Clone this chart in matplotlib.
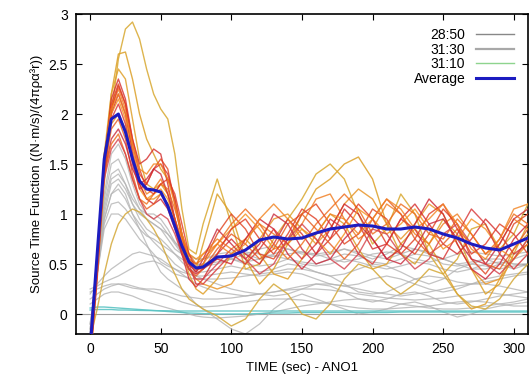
import matplotlib
matplotlib.use("Agg")
import matplotlib.pyplot as plt
from matplotlib.lines import Line2D

plt.rcParams["font.family"] = ["Liberation Sans", "DejaVu Sans"]

# common time grid (sec)
T = [0, 5, 10, 15, 20, 25, 30, 35, 40, 45, 50, 55, 60, 65, 70, 75, 80,
     90, 100, 110, 120, 130, 140, 150, 160, 170, 180, 190, 200, 210, 220,
     230, 240, 250, 260, 270, 280, 290, 300, 310]

AVERAGE = [-0.35, 0.6, 1.55, 1.95, 2.0, 1.82, 1.55, 1.33, 1.25, 1.24, 1.22, 1.08, 0.88, 0.68, 0.52, 0.46, 0.47,
           0.57, 0.58, 0.64, 0.74, 0.77, 0.75, 0.76, 0.81, 0.85, 0.87, 0.89, 0.88, 0.85, 0.85, 0.87, 0.85,
           0.8, 0.76, 0.7, 0.66, 0.64, 0.7, 0.76]

RED_CURVES = [
    [-0.45, 0.45, 1.5, 2.15, 2.35, 2.15, 1.75, 1.5, 1.55, 1.65, 1.6, 1.3, 0.95, 0.6, 0.35, 0.27, 0.35,
     0.6, 0.75, 0.6, 0.5, 0.7, 0.95, 0.8, 0.6, 0.75, 1.05, 0.9, 0.65, 0.7, 0.95, 1.1, 0.9, 0.7, 0.6, 0.75, 0.95, 0.8, 0.6, 0.7],
    [-0.4, 0.5, 1.55, 2.1, 2.3, 2.1, 1.7, 1.4, 1.3, 1.45, 1.55, 1.45, 1.1, 0.75, 0.5, 0.42, 0.5,
     0.8, 1.0, 0.85, 0.6, 0.55, 0.75, 1.0, 1.1, 0.9, 0.7, 0.8, 1.05, 0.95, 0.7, 0.6, 0.8, 1.05, 0.9, 0.55, 0.4, 0.6, 0.9, 1.0],
    [-0.35, 0.55, 1.55, 2.05, 2.25, 2.05, 1.65, 1.35, 1.2, 1.25, 1.35, 1.2, 0.95, 0.7, 0.55, 0.5, 0.6,
     0.75, 0.65, 0.75, 0.9, 0.8, 0.7, 0.9, 1.15, 1.2, 0.95, 0.75, 0.85, 1.1, 1.0, 0.8, 0.7, 0.9, 1.0, 0.8, 0.6, 0.7, 0.95, 0.85],
    [-0.4, 0.5, 1.5, 2.0, 2.2, 2.0, 1.6, 1.3, 1.15, 1.1, 1.15, 1.05, 0.85, 0.6, 0.45, 0.4, 0.45,
     0.55, 0.5, 0.75, 0.95, 0.85, 0.6, 0.45, 0.6, 0.85, 1.1, 1.0, 0.75, 0.55, 0.65, 0.9, 1.15, 1.0, 0.7, 0.45, 0.35, 0.5, 0.75, 0.9],
    [-0.3, 0.6, 1.6, 2.0, 2.15, 1.95, 1.55, 1.25, 1.15, 1.2, 1.25, 1.15, 0.95, 0.75, 0.6, 0.55, 0.6,
     0.7, 0.85, 1.0, 0.85, 0.65, 0.7, 0.85, 0.75, 0.6, 0.8, 1.05, 0.95, 0.8, 0.9, 1.05, 0.85, 0.65, 0.75, 0.95, 0.85, 0.65, 0.55, 0.7],
    [-0.45, 0.4, 1.45, 1.95, 2.1, 1.9, 1.5, 1.25, 1.3, 1.45, 1.5, 1.4, 1.15, 0.8, 0.5, 0.3, 0.3,
     0.45, 0.6, 0.5, 0.65, 0.85, 0.7, 0.55, 0.7, 0.95, 0.85, 0.6, 0.5, 0.7, 0.95, 0.85, 0.6, 0.55, 0.8, 1.05, 0.9, 0.6, 0.45, 0.6],
    [-0.35, 0.55, 1.45, 1.85, 1.95, 1.75, 1.4, 1.15, 1.05, 1.1, 1.2, 1.1, 0.9, 0.65, 0.45, 0.38, 0.45,
     0.65, 0.8, 0.7, 0.55, 0.65, 0.9, 1.0, 0.85, 0.7, 0.55, 0.7, 0.95, 1.15, 1.0, 0.75, 0.6, 0.7, 0.85, 0.7, 0.5, 0.45, 0.65, 0.85],
    [-0.3, 0.55, 1.4, 1.75, 1.85, 1.7, 1.45, 1.3, 1.35, 1.45, 1.4, 1.2, 0.95, 0.7, 0.5, 0.42, 0.55,
     0.85, 0.7, 0.55, 0.7, 1.0, 0.9, 0.65, 0.5, 0.55, 0.75, 0.9, 0.75, 0.55, 0.5, 0.65, 0.9, 0.95, 0.75, 0.55, 0.5, 0.7, 0.95, 1.05],
    [-0.3, 0.6, 1.4, 1.7, 1.8, 1.6, 1.35, 1.15, 1.1, 1.2, 1.3, 1.25, 1.05, 0.8, 0.6, 0.5, 0.55,
     0.7, 0.9, 1.05, 0.9, 0.7, 0.55, 0.7, 0.9, 1.05, 1.2, 1.05, 0.8, 0.9, 1.1, 1.0, 0.8, 0.75, 0.95, 0.8, 0.6, 0.75, 1.0, 0.9],
    [-0.5, 0.35, 1.4, 2.05, 2.28, 2.1, 1.75, 1.45, 1.25, 1.2, 1.3, 1.35, 1.2, 0.9, 0.6, 0.45, 0.45,
     0.6, 0.85, 0.95, 0.75, 0.6, 0.8, 1.05, 0.95, 0.75, 0.9, 1.1, 0.95, 0.7, 0.6, 0.75, 1.0, 1.1, 0.85, 0.6, 0.7, 0.9, 0.8, 0.6],
    [-0.25, 0.6, 1.35, 1.65, 1.75, 1.6, 1.35, 1.15, 1.0, 0.95, 1.0, 0.95, 0.8, 0.6, 0.45, 0.35, 0.35,
     0.5, 0.65, 0.55, 0.4, 0.5, 0.75, 0.9, 0.75, 0.55, 0.45, 0.6, 0.85, 0.8, 0.6, 0.45, 0.55, 0.8, 0.9, 0.7, 0.5, 0.4, 0.55, 0.75],
    [-0.4, 0.5, 1.55, 2.05, 2.2, 2.0, 1.7, 1.45, 1.4, 1.5, 1.5, 1.35, 1.1, 0.8, 0.55, 0.45, 0.5,
     0.7, 0.6, 0.7, 0.95, 1.1, 0.95, 0.75, 0.8, 1.0, 0.95, 0.8, 0.95, 1.15, 1.05, 0.85, 0.95, 1.1, 0.9, 0.65, 0.55, 0.75, 1.05, 1.1],
]
RED_COLORS = ["#d42a2a", "#e0401c", "#f07a1a", "#cc2030", "#f5901c", "#d83232",
              "#e65a1e", "#c8283a", "#ee6a18", "#e03a20", "#d4404a", "#f2821e"]

GOLD_CURVES = [
    [-0.5, 0.4, 1.3, 2.0, 2.55, 2.85, 2.92, 2.75, 2.45, 2.2, 2.05, 1.95, 1.6, 1.05, 0.65, 0.6, 0.9,
     1.35, 0.9, 0.45, 0.5, 0.75, 0.95, 1.15, 1.4, 1.5, 1.35, 1.0, 0.7, 0.85, 1.2, 1.0, 0.6, 0.4, 0.55, 0.85, 0.9, 0.65, 0.8, 1.1],
    [-0.45, 0.5, 1.5, 2.2, 2.6, 2.62, 2.35, 2.0, 1.75, 1.6, 1.45, 1.35, 1.15, 0.8, 0.55, 0.45, 0.7,
     1.2, 1.0, 0.55, 0.3, 0.45, 0.7, 1.0, 1.25, 1.35, 1.5, 1.57, 1.35, 0.9, 0.6, 0.5, 0.7, 0.95, 0.8, 0.45, 0.2, 0.3, 0.6, 0.9],
    [-0.4, 0.55, 1.6, 2.2, 2.45, 2.35, 1.95, 1.55, 1.3, 1.25, 1.3, 1.2, 0.95, 0.65, 0.4, 0.25, 0.2,
     0.35, 0.6, 0.75, 0.6, 0.4, 0.35, 0.55, 0.8, 1.0, 0.9, 0.65, 0.45, 0.5, 0.7, 0.85, 0.7, 0.45, 0.2, 0.05, 0.1, 0.35, 0.65, 0.8],
    [-0.25, 0.05, 0.4, 0.7, 0.9, 1.0, 1.05, 1.02, 0.95, 0.85, 0.72, 0.55, 0.4, 0.25, 0.15, 0.1, 0.05,
     -0.02, -0.12, -0.05, 0.15, 0.3, 0.2, 0.0, -0.05, 0.1, 0.35, 0.5, 0.45, 0.3, 0.2, 0.3, 0.45, 0.4, 0.2, 0.08, 0.05, 0.15, 0.35, 0.5],
    [-0.35, 0.55, 1.45, 1.9, 2.0, 1.85, 1.55, 1.3, 1.15, 1.15, 1.2, 1.1, 0.9, 0.65, 0.45, 0.35, 0.3,
     0.25, 0.3, 0.5, 0.75, 0.95, 1.0, 0.85, 0.7, 0.85, 1.1, 1.25, 1.15, 0.9, 0.75, 0.9, 1.1, 1.0, 0.7, 0.45, 0.3, 0.35, 0.55, 0.75],
]
GOLD_COLORS = ["#d8a830", "#dca028", "#e0a02a", "#d4a838", "#e8962a"]

GRAY_CURVES = [
    [-0.3, 0.5, 1.2, 1.6, 1.7, 1.55, 1.3, 1.1, 1.0, 0.95, 0.9, 0.8, 0.7, 0.6, 0.55, 0.5, 0.5,
     0.52, 0.55, 0.5, 0.48, 0.5, 0.55, 0.52, 0.5, 0.55, 0.6, 0.58, 0.52, 0.5, 0.55, 0.6, 0.58, 0.5, 0.48, 0.5, 0.55, 0.55, 0.5, 0.5],
    [-0.25, 0.5, 1.15, 1.5, 1.55, 1.4, 1.2, 1.05, 0.95, 0.9, 0.85, 0.75, 0.65, 0.6, 0.58, 0.55, 0.55,
     0.6, 0.62, 0.6, 0.55, 0.6, 0.65, 0.62, 0.58, 0.6, 0.65, 0.6, 0.55, 0.6, 0.68, 0.65, 0.6, 0.55, 0.5, 0.45, 0.45, 0.5, 0.55, 0.6],
    [-0.2, 0.5, 1.1, 1.4, 1.45, 1.3, 1.1, 0.95, 0.85, 0.8, 0.75, 0.68, 0.6, 0.52, 0.45, 0.42, 0.42,
     0.45, 0.48, 0.45, 0.42, 0.45, 0.5, 0.48, 0.42, 0.38, 0.4, 0.45, 0.5, 0.48, 0.42, 0.35, 0.3, 0.35, 0.45, 0.5, 0.48, 0.45, 0.48, 0.5],
    [-0.2, 0.45, 1.0, 1.3, 1.35, 1.25, 1.1, 1.0, 0.95, 0.9, 0.85, 0.8, 0.72, 0.65, 0.6, 0.55, 0.55,
     0.58, 0.55, 0.52, 0.55, 0.58, 0.55, 0.5, 0.48, 0.5, 0.55, 0.52, 0.48, 0.45, 0.48, 0.52, 0.5, 0.45, 0.42, 0.45, 0.5, 0.52, 0.5, 0.48],
    [-0.15, 0.45, 0.95, 1.2, 1.25, 1.15, 1.0, 0.9, 0.8, 0.72, 0.65, 0.58, 0.5, 0.45, 0.4, 0.38, 0.38,
     0.4, 0.42, 0.4, 0.38, 0.4, 0.42, 0.4, 0.35, 0.3, 0.28, 0.3, 0.35, 0.38, 0.35, 0.3, 0.25, 0.22, 0.25, 0.3, 0.35, 0.38, 0.4, 0.42],
    [-0.1, 0.4, 0.9, 1.1, 1.12, 1.05, 0.95, 0.85, 0.78, 0.75, 0.7, 0.65, 0.6, 0.55, 0.5, 0.48, 0.5,
     0.55, 0.6, 0.62, 0.6, 0.58, 0.6, 0.62, 0.6, 0.55, 0.52, 0.55, 0.6, 0.62, 0.6, 0.55, 0.52, 0.55, 0.6, 0.62, 0.6, 0.58, 0.6, 0.62],
    [-0.1, 0.4, 0.85, 1.0, 1.0, 0.95, 0.85, 0.75, 0.68, 0.6, 0.52, 0.48, 0.45, 0.42, 0.4, 0.38, 0.35,
     0.3, 0.25, 0.22, 0.2, 0.18, 0.2, 0.25, 0.3, 0.28, 0.22, 0.15, 0.12, 0.15, 0.2, 0.22, 0.18, 0.12, 0.1, 0.12, 0.15, 0.18, 0.2, 0.22],
    [-0.2, 0.4, 0.95, 1.2, 1.3, 1.2, 1.0, 0.85, 0.7, 0.55, 0.42, 0.35, 0.3, 0.25, 0.18, 0.1, 0.05,
     -0.05, -0.15, -0.2, -0.1, 0.05, 0.15, 0.2, 0.15, 0.1, 0.05, 0.0, 0.02, 0.05, 0.1, 0.12, 0.08, 0.02, -0.03, 0.0, 0.05, 0.08, 0.1, 0.12],
    [-0.15, 0.45, 1.05, 1.35, 1.4, 1.3, 1.15, 1.05, 1.0, 1.0, 0.95, 0.85, 0.72, 0.62, 0.55, 0.5, 0.48,
     0.5, 0.55, 0.6, 0.65, 0.68, 0.65, 0.6, 0.6, 0.62, 0.65, 0.62, 0.58, 0.55, 0.6, 0.65, 0.62, 0.55, 0.5, 0.52, 0.55, 0.5, 0.45, 0.5],
    [0.25, 0.28, 0.32, 0.35, 0.38, 0.42, 0.46, 0.5, 0.52, 0.53, 0.5, 0.45, 0.4, 0.38, 0.36, 0.35, 0.35,
     0.35, 0.36, 0.38, 0.4, 0.42, 0.45, 0.45, 0.42, 0.38, 0.3, 0.22, 0.2, 0.22, 0.28, 0.35, 0.38, 0.36, 0.32, 0.3, 0.32, 0.35, 0.38, 0.4],
    [0.22, 0.25, 0.28, 0.3, 0.3, 0.28, 0.26, 0.25, 0.24, 0.22, 0.2, 0.18, 0.15, 0.12, 0.1, 0.08, 0.07,
     0.08, 0.1, 0.12, 0.14, 0.15, 0.15, 0.14, 0.12, 0.1, 0.08, 0.06, 0.05, 0.05, 0.06, 0.07, 0.08, 0.1, 0.12, 0.13, 0.12, 0.1, 0.08, 0.08],
    [0.15, 0.2, 0.25, 0.28, 0.3, 0.3, 0.28, 0.26, 0.25, 0.25, 0.24, 0.22, 0.2, 0.18, 0.17, 0.16, 0.15,
     0.15, 0.16, 0.18, 0.2, 0.22, 0.24, 0.25, 0.25, 0.24, 0.22, 0.2, 0.18, 0.16, 0.15, 0.14, 0.15, 0.16, 0.18, 0.2, 0.22, 0.2, 0.18, 0.16],
    [0.1, 0.15, 0.2, 0.22, 0.22, 0.2, 0.18, 0.15, 0.12, 0.1, 0.08, 0.06, 0.04, 0.02, 0.0, -0.02, -0.03,
     -0.04, -0.03, -0.02, 0.0, 0.02, 0.05, 0.08, 0.1, 0.12, 0.14, 0.15, 0.14, 0.12, 0.1, 0.08, 0.06, 0.05, 0.05, 0.06, 0.08, 0.1, 0.12, 0.15],
    [0.2, 0.3, 0.38, 0.45, 0.5, 0.55, 0.6, 0.62, 0.6, 0.58, 0.55, 0.5, 0.45, 0.4, 0.35, 0.3, 0.27,
     0.22, 0.2, 0.18, 0.2, 0.22, 0.25, 0.28, 0.3, 0.3, 0.28, 0.25, 0.22, 0.2, 0.18, 0.2, 0.22, 0.25, 0.28, 0.3, 0.3, 0.28, 0.25, 0.22],
]

CYAN_CURVES = [
    [0.06, 0.07, 0.07, 0.065, 0.06, 0.055, 0.05, 0.045, 0.04, 0.035, 0.03, 0.025, 0.02, 0.015, 0.01, 0.008, 0.005,
     0.0, 0.0, 0.0, 0.005, 0.01, 0.01, 0.015, 0.015, 0.015, 0.015, 0.015, 0.015, 0.015, 0.02, 0.02, 0.02, 0.02, 0.02, 0.02, 0.02, 0.02, 0.02, 0.02],
    [0.04, 0.045, 0.045, 0.045, 0.04, 0.04, 0.038, 0.036, 0.035, 0.034, 0.033, 0.032, 0.03, 0.03, 0.03, 0.03, 0.03,
     0.03, 0.03, 0.03, 0.03, 0.03, 0.03, 0.03, 0.03, 0.03, 0.03, 0.03, 0.03, 0.03, 0.03, 0.03, 0.03, 0.03, 0.03, 0.03, 0.03, 0.03, 0.03, 0.03],
]

LEGEND_LABELS = ["28:50", "31:30", "31:10", "Average"]

fig = plt.figure(figsize=(5.30, 3.79), dpi=100)
ax = fig.add_axes([0.1434, 0.1187, 0.8526, 0.8443])

ax.axhline(0, color="#a0a0a0", linewidth=0.8, zorder=1)

for ys in GRAY_CURVES:
    ax.plot(T, ys, color="#b4b4b4", linewidth=0.9, alpha=0.8, zorder=2)
for ys in CYAN_CURVES:
    ax.plot(T, ys, color="#5cc4c4", linewidth=1.0, alpha=0.9, zorder=2)
for ys, c in zip(GOLD_CURVES, GOLD_COLORS):
    ax.plot(T, ys, color=c, linewidth=1.0, alpha=0.85, zorder=3)
for ys, c in zip(RED_CURVES, RED_COLORS):
    ax.plot(T, ys, color=c, linewidth=1.0, alpha=0.8, zorder=4)
ax.plot(T, AVERAGE, color="#1c1cc0", linewidth=2.2, zorder=5)

ax.set_xlim(-10, 310)
ax.set_ylim(-0.2, 3)
ax.set_xticks([0, 50, 100, 150, 200, 250, 300])
ax.set_yticks([0, 0.5, 1, 1.5, 2, 2.5, 3])
ax.set_yticklabels(["0", "0.5", "1", "1.5", "2", "2.5", "3"])
ax.tick_params(direction="in", top=True, right=True, labelsize=10, length=4, pad=6)
for s in ax.spines.values():
    s.set_linewidth(1.2)

ax.set_xlabel("TIME (sec) - ANO1", fontsize=9.5)
ax.set_ylabel("Source Time Function ((N·m/s)/(4πρα³r))", fontsize=9.5)

handles = [
    Line2D([], [], color="#888888", linewidth=1.0),
    Line2D([], [], color="#a8a8a8", linewidth=1.6),
    Line2D([], [], color="#8ed48e", linewidth=1.0),
    Line2D([], [], color="#1c1cc0", linewidth=2.2),
]
ax.legend(handles, LEGEND_LABELS, loc="upper right", frameon=False, markerfirst=False,
          fontsize=10, handlelength=2.7, labelspacing=0.05, borderaxespad=0.6,
          handletextpad=0.8)
for t in ax.get_legend().get_texts():
    t.set_ha("right")

fig.savefig("out.png", dpi=100)
